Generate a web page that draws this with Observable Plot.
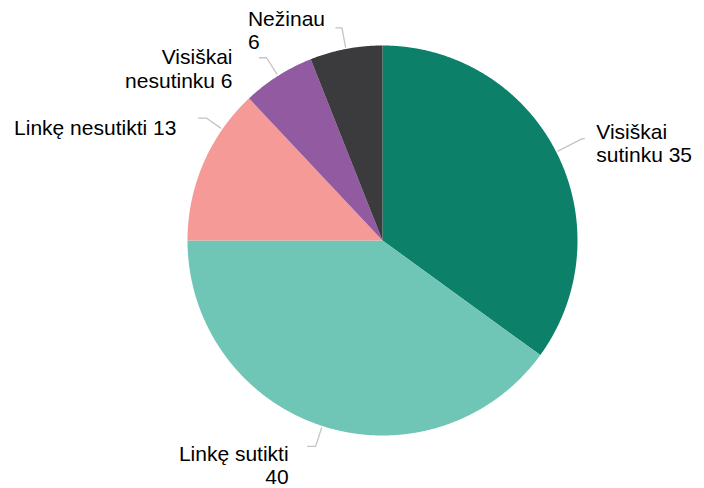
<!DOCTYPE html>
<html><head><meta charset="utf-8">
<script src="https://cdn.jsdelivr.net/npm/d3@7"></script>
<script src="https://cdn.jsdelivr.net/npm/@observablehq/plot@0.6"></script>
<style>html,body{margin:0;padding:0;background:#fff;} #chart svg{display:block}</style>
</head><body><div id="chart"></div>
<script>
// ---- data ----
const categories = ["Visiškai sutinku", "Linkę sutikti", "Linkę nesutikti", "Visiškai nesutinku", "Nežinau"];
const values = [35, 40, 13, 6, 6];
const labels = ["Visiškai\nsutinku 35", "Linkę sutikti\n40", "Linkę nesutikti 13", "Visiškai\nnesutinku 6", "Nežinau\n6"];
const colors = ["#0c8069", "#6fc6b6", "#f59a96", "#925aa0", "#3b3b3d"];

// ---- layout (pie geometry and label placement) ----
const W = 704, H = 488, CX = 382, CY = 240, R = 195;
const leaderShift = [0, 0, 11.4, 0, 0];        // degrees
const elbowR = [1.15, 1.11, 1.10, 1.11, 1.11];  // in radii
const tailPx = [2, -8, -8, -7, -6];
const labelOffset = [[12, 23.5], [-19, 38], [-22, 17], [-27, 30], [-88, 21]];
const labelAnchor = ["start", "end", "end", "end", "start"];

const total = d3.sum(values);
let acc = 0;
const slices = categories.map((c, i) => {
  const a0 = acc / total * 360; acc += values[i]; const a1 = acc / total * 360;
  return {c, i, a0, a1, mid: (a0 + a1) / 2};
});
const rad = d => d * Math.PI / 180;
const pt = (ang, r) => [r * Math.sin(rad(ang)), r * Math.cos(rad(ang))];

const polys = [];
for (const s of slices) {
  polys.push({c: s.c, x: 0, y: 0});
  const n = Math.ceil((s.a1 - s.a0) / 0.25);
  for (let k = 0; k <= n; k++) {
    const a = s.a0 + (s.a1 - s.a0) * k / n;
    const [x, y] = pt(a, 1);
    polys.push({c: s.c, x, y});
  }
  polys.push({c: s.c, x: 0, y: 0});
}

const leaders = [], texts = [];
for (const s of slices) {
  const ang = s.mid + leaderShift[s.i];
  const [x0, y0] = pt(ang, 1.01);
  const [x1, y1] = pt(ang, elbowR[s.i]);
  const x2 = x1 + tailPx[s.i] / R, y2 = y1;
  leaders.push({k: s.i, x: x0, y: y0}, {k: s.i, x: x1, y: y1}, {k: s.i, x: x2, y: y2});
  texts.push({
    t: labels[s.i], anchor: labelAnchor[s.i],
    x: x2 + labelOffset[s.i][0] / R, y: y2 - labelOffset[s.i][1] / R
  });
}

const textOpts = {x: "x", y: "y", text: "t", fontSize: 21, fill: "#000",
  fontFamily: "'Liberation Sans', Arial, sans-serif", lineAnchor: "bottom", lineHeight: 1.11};

const chart = Plot.plot({
  width: W, height: H, margin: 0,
  x: {domain: [-CX / R, (W - CX) / R], axis: null},
  y: {domain: [-(H - CY) / R, CY / R], axis: null},
  color: {domain: categories, range: colors},
  style: {background: "#fff"},
  marks: [
    Plot.line(polys, {x: "x", y: "y", z: "c", fill: "c", stroke: "none", curve: "linear"}),
    Plot.line(leaders, {x: "x", y: "y", z: "k", stroke: "#c4c4c4", strokeWidth: 1.3}),
    Plot.text(texts.filter(d => d.anchor === "start"), {...textOpts, textAnchor: "start"}),
    Plot.text(texts.filter(d => d.anchor === "end"), {...textOpts, textAnchor: "end"})
  ]
});
document.getElementById("chart").appendChild(chart);
</script>
</body></html>
